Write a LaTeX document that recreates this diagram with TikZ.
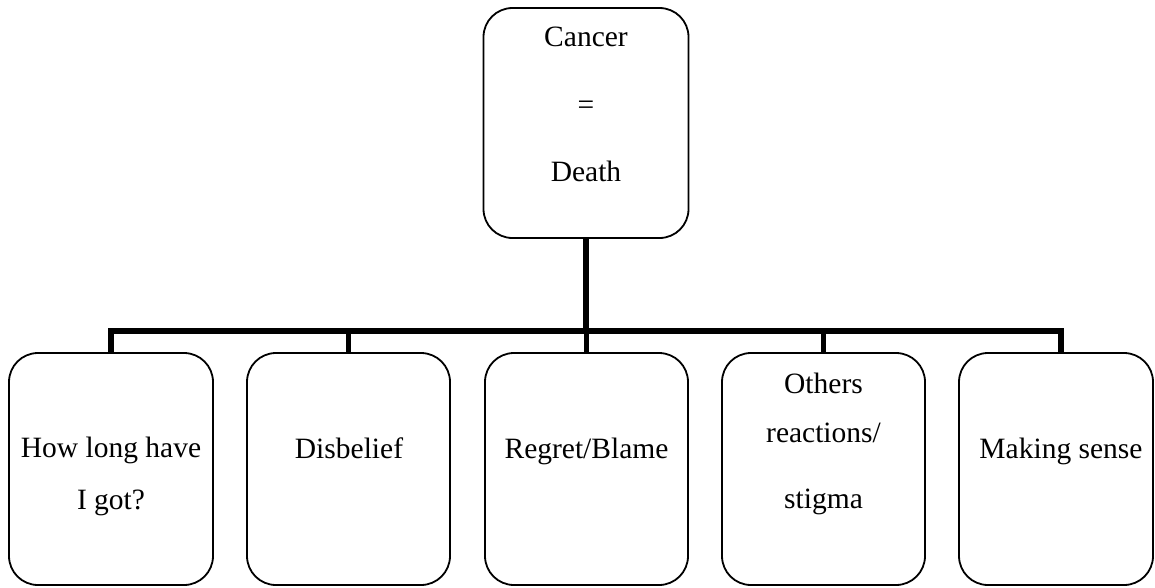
\documentclass[tikz,border=0pt]{standalone}
\usepackage{fontspec}
\setmainfont{Liberation Serif}
\begin{document}
\begin{tikzpicture}[x=1pt,y=-1pt,
  box/.style={draw=black, line width=1.8pt, rounded corners=29pt, inner sep=0pt},
  conn/.style={draw=black, line width=5.5pt, line join=miter},
  txt/.style={inner sep=0pt, anchor=base, font=\fontsize{29.5}{35}\selectfont}]
  \useasboundingbox[fill=white] (0,0) rectangle (1155,587);

  % boxes
  \node[box, minimum width=205pt, minimum height=230pt] (top) at (586,123) {};
  \node[box, minimum width=204pt, minimum height=232pt] (b1) at (111,469) {};
  \node[box, minimum width=203pt, minimum height=232pt] (b2) at (348.5,469) {};
  \node[box, minimum width=203pt, minimum height=232pt] (b3) at (586.5,469) {};
  \node[box, minimum width=203pt, minimum height=232pt] (b4) at (823.5,469) {};
  \node[box, minimum width=194pt, minimum height=232pt] (b5) at (1056,469) {};

  % bus and connectors
  \coordinate (bus) at (586,331);
  \coordinate (b5top) at ([xshift=5pt]b5.north);
  \draw[conn] (top.south) -- (top.south |- bus);
  \draw[conn] (b1.north) -- (b1.north |- bus) -- (b5top |- bus) -- (b5top);
  \draw[conn] (b2.north |- bus) -- (b2.north);
  \draw[conn] (b3.north |- bus) -- (b3.north);
  \draw[conn] (b4.north |- bus) -- (b4.north);

  % labels
  \node[txt] (t1) at (586,46) {Cancer};
  \node[txt] (t2) at (586,114) {=};
  \node[txt] (t3) at (586,181) {Death};
  \node[txt] (l1a) at (111,457) {How long have};
  \node[txt] (l1b) at (111,509) {I got?};
  \node[txt] (l2) at (349,458) {Disbelief};
  \node[txt] (l3) at (586.5,458) {Regret/Blame};
  \node[txt] (l4a) at (823.5,393) {Others};
  \node[txt] (l4b) at (823.5,442) {reactions/};
  \node[txt] (l4c) at (823.5,508) {stigma};
  \node[txt] (l5) at (1061,458) {Making sense};
\end{tikzpicture}
\end{document}
